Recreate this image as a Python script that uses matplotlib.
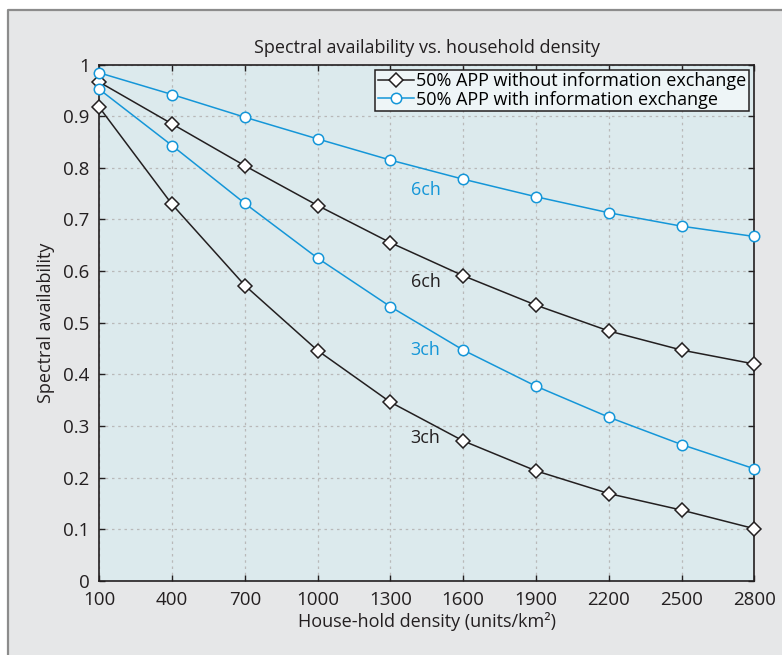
import matplotlib
matplotlib.use("Agg")
import matplotlib.pyplot as plt
from matplotlib.lines import Line2D
from matplotlib.patches import Rectangle

plt.rcParams['font.family'] = ['Open Sans', 'DejaVu Sans']

# ---- data ----
density = [100, 400, 700, 1000, 1300, 1600, 1900, 2200, 2500, 2800]
no_exch_6ch = [0.966, 0.885, 0.804, 0.727, 0.655, 0.591, 0.534, 0.484, 0.447, 0.420]
no_exch_3ch = [0.917, 0.729, 0.572, 0.446, 0.346, 0.271, 0.213, 0.169, 0.137, 0.101]
exch_6ch = [0.984, 0.942, 0.898, 0.856, 0.815, 0.778, 0.744, 0.713, 0.687, 0.667]
exch_3ch = [0.952, 0.843, 0.731, 0.625, 0.531, 0.447, 0.377, 0.317, 0.264, 0.217]
xticks = [100, 400, 700, 1000, 1300, 1600, 1900, 2200, 2500, 2800]
yticks = [0, 0.1, 0.2, 0.3, 0.4, 0.5, 0.6, 0.7, 0.8, 0.9, 1.0]
ytick_labels = ['0', '0.1', '0.2', '0.3', '0.4', '0.5', '0.6', '0.7', '0.8', '0.9', '1']
labels = ["50% APP without information exchange", "50% APP with information exchange"]
annotations = [("6ch", 1445, 0.757, 'blue'), ("6ch", 1445, 0.579, 'black'),
               ("3ch", 1445, 0.447, 'blue'), ("3ch", 1445, 0.277, 'black')]

BLACK = '#231f20'
BLUE = '#1496d8'
PANEL = '#e6e7e8'
AXBG = '#dceaed'
FS = 13

W, H = 782, 655
fig = plt.figure(figsize=(W / 100, H / 100), dpi=100)
fig.patch.set_facecolor('white')

# gray panel with border on left/top
fig.add_artist(Rectangle((8 / W, 0), 1 - 8 / W, 1 - 10 / H, transform=fig.transFigure,
                         facecolor=PANEL, edgecolor='none', zorder=-10))
fig.add_artist(Line2D([8 / W, 8 / W, 1], [0, 1 - 10 / H, 1 - 10 / H], transform=fig.transFigure,
                      color='#8c8c8c', lw=1.6, zorder=-9))

left, right, top, bottom = 99.4 / W, 754.3 / W, 1 - 64.6 / H, 1 - 580.8 / H
ax = fig.add_axes([left, bottom, right - left, top - bottom])
ax.set_facecolor(AXBG)

dkw = dict(lw=1.1, marker='D', ms=7.5, mfc='white', mew=1.1, zorder=3, clip_on=False)
ckw = dict(lw=1.1, marker='o', ms=7.5, mfc='white', mew=1.1, zorder=3, clip_on=False)
ax.plot(density, no_exch_6ch, color=BLACK, mec=BLACK, label=labels[0], **dkw)
ax.plot(density, no_exch_3ch, color=BLACK, mec=BLACK, **dkw)
ax.plot(density, exch_6ch, color=BLUE, mec=BLUE, label=labels[1], **ckw)
ax.plot(density, exch_3ch, color=BLUE, mec=BLUE, **ckw)

for txt, x, y, c in annotations:
    ax.text(x, y, txt, color=BLUE if c == 'blue' else BLACK, fontsize=FS,
            ha='center', va='center', zorder=4)

ax.set_xlim(100, 2800)
ax.set_ylim(0, 1)
ax.set_xticks(xticks)
ax.set_xticklabels([str(v) for v in xticks])
ax.set_yticks(yticks)
ax.set_yticklabels(ytick_labels)
ax.tick_params(direction='in', length=4, width=1, colors=BLACK, labelsize=13.5,
               top=True, right=True)
ax.tick_params(axis='x', pad=7.5)
ax.tick_params(axis='y', pad=7)
ax.grid(True, linestyle=(0, (2, 3)), color='#b9b9b9', lw=0.9)
ax.set_axisbelow(True)
for s in ax.spines.values():
    s.set_color(BLACK)
    s.set_linewidth(1.2)

ax.set_title("Spectral availability vs. household density", fontsize=FS, color=BLACK, pad=8)
ax.set_xlabel("House-hold density (units/km²)", fontsize=FS, color=BLACK, labelpad=2)
ax.set_ylabel("Spectral availability", fontsize=FS, color=BLACK, labelpad=6)

leg = ax.legend(loc='upper right', fontsize=FS, frameon=True, fancybox=False,
                borderpad=0.12, labelspacing=0.02, handlelength=2.0, handletextpad=0.15,
                borderaxespad=0.3)
leg.get_frame().set_edgecolor(BLACK)
leg.get_frame().set_linewidth(1.1)
leg.get_frame().set_facecolor('#eef5f7')
leg.get_frame().set_alpha(1)

fig.savefig('out.png', dpi=100)
